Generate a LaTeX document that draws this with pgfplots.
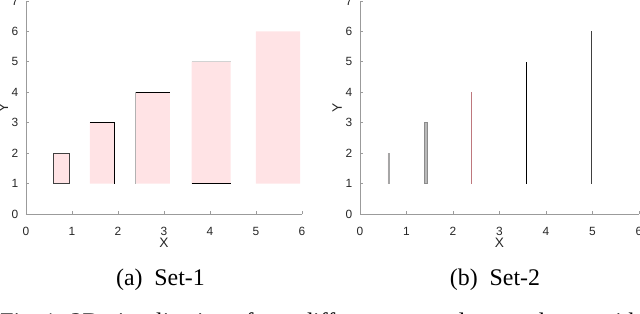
\documentclass[border=0pt]{standalone}
\usepackage{fontspec}
\setmainfont{Liberation Serif}
\newfontfamily\axfont{Liberation Sans}
\usepackage{pgfplots}
\pgfplotsset{compat=1.18}
\definecolor{rpink}{RGB}{255,227,229}
\definecolor{axgray}{RGB}{155,155,155}
\definecolor{lblgray}{RGB}{38,38,38}
\definecolor{darkpink}{RGB}{190,120,125}
\pgfplotsset{myax/.style={
  scale only axis, height=96.52pt,
  xmin=0,xmax=6,ymin=0,ymax=7,
  xtick={0,...,6}, ytick={0,...,7},
  axis lines=left, axis line style={-, draw=axgray, line width=0.45pt},
  tick style={draw=axgray, line width=0.4pt}, major tick length=1.5pt,
  tick align=inside,
  ticklabel style={font=\axfont\fontsize{5.4}{6}\selectfont, text=lblgray},
  xticklabel style={yshift=-2.4pt},
  /pgf/number format/assume math mode=true,
  label style={font=\axfont\fontsize{6.2}{7}\selectfont, text=lblgray},
  xlabel=X, ylabel=Y,
  xlabel style={at={(axis description cs:0.5,-0.136)}, anchor=center},
  ylabel style={at={(axis description cs:-0.082,0.5)}, anchor=center},
  clip=false,
}}
\begin{document}
\begin{tikzpicture}
\path[use as bounding box] (0,0) rectangle (290pt,141.83pt);
\clip (0,0) rectangle (290pt,141.83pt);
\begin{axis}[myax, width=125.06pt, at={(11.78pt,44.86pt)}, anchor=origin]
\addplot[fill=rpink, draw=none] coordinates {(0.594,1) (0.941,1) (0.941,2) (0.594,2) (0.594,1)};
\addplot[fill=rpink, draw=none] coordinates {(1.391,1) (1.920,1) (1.920,3) (1.391,3) (1.391,1)};
\addplot[fill=rpink, draw=none] coordinates {(2.391,1) (3.130,1) (3.130,4) (2.391,4) (2.391,1)};
\addplot[fill=rpink, draw=none] coordinates {(3.600,1) (4.450,1) (4.450,5) (3.600,5) (3.600,1)};
\addplot[fill=rpink, draw=none] coordinates {(5.000,1) (5.960,1) (5.960,6) (5.000,6) (5.000,1)};
\addplot[draw=black!75, line width=0.45pt] coordinates {(0.594,1) (0.941,1) (0.941,2) (0.594,2) (0.594,1)};
\addplot[draw=black, line width=0.45pt] coordinates {(1.391,3) (1.920,3) (1.920,1)};
\addplot[draw=black, line width=0.45pt] coordinates {(2.391,4) (3.130,4)};
\addplot[draw=gray!60, line width=0.45pt] coordinates {(2.391,1) (2.391,4)};
\addplot[draw=black, line width=0.45pt] coordinates {(3.600,1) (4.450,1)};
\addplot[draw=gray!35, line width=0.45pt] coordinates {(3.600,5) (4.450,5)};
\end{axis}
\begin{axis}[myax, width=126.42pt, at={(163.13pt,44.86pt)}, anchor=origin]
\addplot[fill=rpink, draw=gray!70, line width=0.35pt] coordinates {(0.600,1) (0.640,1) (0.640,2) (0.600,2) (0.600,1)};
\addplot[fill=gray!55, draw=gray!90, line width=0.35pt] coordinates {(1.385,1) (1.445,1) (1.445,3) (1.385,3) (1.385,1)};
\addplot[draw=darkpink, line width=0.5pt] coordinates {(2.40,1) (2.40,4)};
\addplot[draw=black, line width=0.5pt] coordinates {(3.58,1) (3.58,5)};
\addplot[draw=black!75, line width=0.5pt] coordinates {(4.97,1) (4.97,6)};
\end{axis}
\node[anchor=base, inner sep=0, font=\fontsize{10.8}{13}\selectfont] at (72.7pt,12.3pt) {(a)\ \ Set-1};
\node[anchor=base, inner sep=0, font=\fontsize{10.8}{13}\selectfont] at (224.3pt,12.3pt) {(b)\ \ Set-2};
\node[anchor=base west, inner sep=0] at (0pt,-7.5pt) {\parbox[t]{290pt}{\fontsize{10.8}{13}\selectfont Fig.~1: 2D visualization of two different rectangle sets, shown with their bounds and the spans they cover along both axes.}};
\end{tikzpicture}
\end{document}
